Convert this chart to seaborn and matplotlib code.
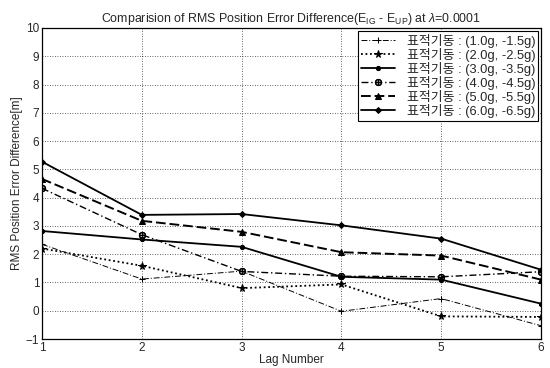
import matplotlib
matplotlib.use("Agg")
import matplotlib.pyplot as plt
import seaborn as sns
import pandas as pd

lags = [1, 2, 3, 4, 5, 6]
labels = ["표적기동 : (1.0g, -1.5g)", "표적기동 : (2.0g, -2.5g)", "표적기동 : (3.0g, -3.5g)",
          "표적기동 : (4.0g, -4.5g)", "표적기동 : (5.0g, -5.5g)", "표적기동 : (6.0g, -6.5g)"]
s1 = [2.35, 1.12, 1.40, -0.02, 0.43, -0.53]
s2 = [2.20, 1.59, 0.80, 0.93, -0.20, -0.22]
s3 = [2.82, 2.52, 2.26, 1.20, 1.10, 0.25]
s4 = [4.33, 2.69, 1.39, 1.22, 1.20, 1.38]
s5 = [4.66, 3.18, 2.79, 2.07, 1.95, 1.10]
s6 = [5.27, 3.39, 3.42, 3.02, 2.55, 1.45]
series = [s1, s2, s3, s4, s5, s6]
yticks = list(range(-1, 11))

sns.set_style("white")
plt.rcParams['font.family'] = ['Liberation Sans', 'Noto Sans CJK KR', 'DejaVu Sans']
plt.rcParams['mathtext.fontset'] = 'custom'
plt.rcParams['mathtext.rm'] = 'Liberation Sans'
plt.rcParams['mathtext.it'] = 'Liberation Sans:italic'

rows = []
for lab, vals in zip(labels, series):
    for x, v in zip(lags, vals):
        rows.append({"lag": x, "val": v, "series": lab})
df = pd.DataFrame(rows)

styles = [
    dict(ls=(0, (6, 2, 1, 2)), lw=0.7, marker='+', ms=4, mfc='black'),
    dict(ls=(0, (1, 1.5)), lw=1.3, marker='*', ms=5.5, mfc='black'),
    dict(ls='-', lw=1.3, marker='o', ms=3, mfc='black'),
    dict(ls=(0, (5, 2, 1, 2)), lw=1.0, marker='$\\oplus$', ms=4.5, mfc='black'),
    dict(ls=(0, (5, 2)), lw=1.4, marker='^', ms=4.5, mfc='black'),
    dict(ls='-', lw=1.3, marker='D', ms=3, mfc='black'),
]

fig = plt.figure(figsize=(5.5, 3.68), dpi=100)
ax = fig.add_axes([42/550, 1-339/368, 499/550, 311/368])
for lab, st in zip(labels, styles):
    sns.lineplot(data=df[df.series == lab], x="lag", y="val", ax=ax, color='black',
                 linestyle=st['ls'], linewidth=st['lw'], marker=st['marker'],
                 markersize=st['ms'], markerfacecolor=st['mfc'], markeredgecolor='black',
                 label=lab)

ax.set_xlim(1, 6)
ax.set_ylim(-1, 10)
ax.set_xticks(lags)
ax.set_yticks(yticks)
ax.tick_params(axis='both', labelsize=8.5, direction='in', length=3, color='black')
ax.tick_params(axis='x', pad=2)
ax.tick_params(axis='y', pad=2)
ax.grid(True, color='black', linestyle=(0, (1, 2)), linewidth=0.6, alpha=0.8)
for sp in ax.spines.values():
    sp.set_color('black')
    sp.set_linewidth(0.9)
ax.set_xlabel("Lag Number", fontsize=8.5, labelpad=0)
ax.set_ylabel("RMS Position Error Difference[m]", fontsize=8.5, labelpad=2)
ax.set_title(r"Comparision of RMS Position Error Difference(E$_{\mathrm{IG}}$ - E$_{\mathrm{UP}}$) at $\lambda$=0.0001",
             fontsize=8.9, pad=4)
leg = ax.legend(loc='upper right', fontsize=9.3, frameon=True, fancybox=False, edgecolor='black',
                handlelength=2.6, borderaxespad=0.2, labelspacing=0.0, handletextpad=0.9,
                borderpad=0.25)
leg.get_frame().set_linewidth(0.8)
leg.get_frame().set_alpha(1)

fig.savefig("out.png", dpi=100)
